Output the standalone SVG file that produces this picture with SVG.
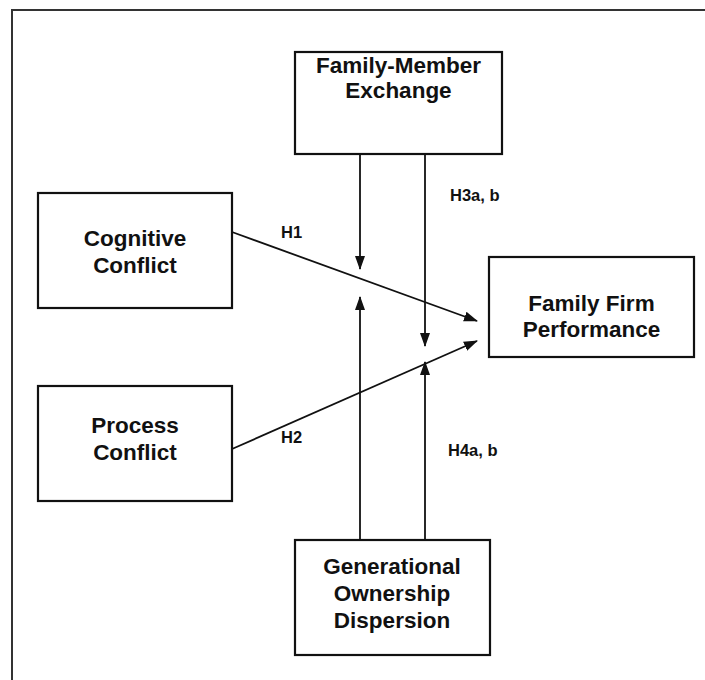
<svg xmlns="http://www.w3.org/2000/svg" width="705" height="680" viewBox="0 0 705 680">
  <style>
    .box { fill: #ffffff; stroke: #111111; stroke-width: 2.2; }
    .label { font-family: "Liberation Sans", Arial, Helvetica, sans-serif; font-weight: bold; font-size: 22.5px; fill: #111111; text-anchor: middle; }
    .hyp { font-family: "Liberation Sans", Arial, Helvetica, sans-serif; font-weight: bold; font-size: 16.5px; fill: #111111; }
    .edge { stroke: #111111; stroke-width: 1.8; fill: none; marker-end: url(#arrow); }
    .frame { fill: none; stroke: #333333; stroke-width: 2; }
  </style>
  <defs>
    <marker id="arrow" markerUnits="userSpaceOnUse" markerWidth="14" markerHeight="12" viewBox="0 0 14 12" refX="13" refY="6" orient="auto">
      <path d="M0,1 L14,6 L0,11 Z" fill="#111111"/>
    </marker>
  </defs>

  <rect width="705" height="680" fill="#ffffff"/>
  <!-- outer frame, open to the right and bottom -->
  <path class="frame" d="M12,690 L12,10 L715,10"/>

  <g id="connectors">
    <line class="edge" x1="232" y1="232" x2="477" y2="321"/>
    <line class="edge" x1="232" y1="449" x2="477" y2="341"/>
    <line class="edge" x1="360" y1="154" x2="360" y2="269"/>
    <line class="edge" x1="425" y1="154" x2="425" y2="346"/>
    <line class="edge" x1="360" y1="540" x2="360" y2="297"/>
    <line class="edge" x1="425" y1="540" x2="425" y2="362"/>
    <text class="hyp" x="281" y="238">H1</text>
    <text class="hyp" x="281" y="443">H2</text>
    <text class="hyp" x="450" y="201">H3a, b</text>
    <text class="hyp" x="448" y="456">H4a, b</text>
  </g>

  <g id="family-member-exchange">
    <rect class="box" x="295" y="52" width="207" height="102"/>
    <text class="label" x="398.5" y="73">Family-Member</text>
    <text class="label" x="398.5" y="98">Exchange</text>
  </g>

  <g id="cognitive-conflict">
    <rect class="box" x="38" y="193" width="194" height="115"/>
    <text class="label" x="135" y="246">Cognitive</text>
    <text class="label" x="135" y="273">Conflict</text>
  </g>

  <g id="process-conflict">
    <rect class="box" x="38" y="386" width="194" height="115"/>
    <text class="label" x="135" y="433">Process</text>
    <text class="label" x="135" y="460">Conflict</text>
  </g>

  <g id="family-firm-performance">
    <rect class="box" x="489" y="257" width="205" height="100"/>
    <text class="label" x="591.5" y="311">Family Firm</text>
    <text class="label" x="591.5" y="337">Performance</text>
  </g>

  <g id="generational-ownership-dispersion">
    <rect class="box" x="295" y="540" width="195" height="115"/>
    <text class="label" x="392" y="574">Generational</text>
    <text class="label" x="392" y="601">Ownership</text>
    <text class="label" x="392" y="628">Dispersion</text>
  </g>
</svg>
